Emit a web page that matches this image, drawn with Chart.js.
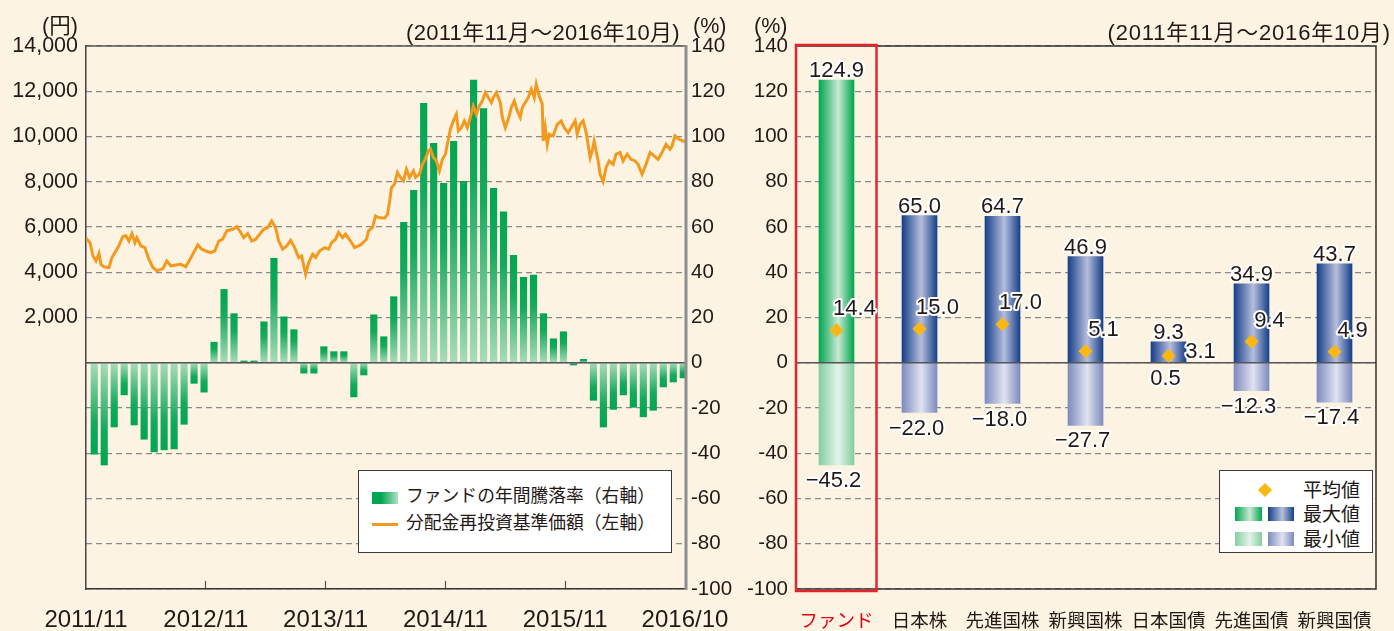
<!DOCTYPE html>
<html>
<head>
<meta charset="utf-8">
<script src="https://cdn.jsdelivr.net/npm/chart.js@4.4.1/dist/chart.umd.min.js"></script>
<style>
  body { margin: 0; width: 1394px; height: 631px; overflow: hidden; position: relative;
         background: #fdf3e2; color: #231815;
         font-family: "Liberation Sans", "Noto Sans CJK JP", sans-serif; }
  canvas { position: absolute; top: 0; }
  #left { left: 0; }
  #right { left: 740px; }
  .t { position: absolute; white-space: nowrap; line-height: 1; }
  .box { position: absolute; background: #fff; border: 1px solid #3a3a3a; box-sizing: border-box; }
  .box div { position: absolute; white-space: nowrap; line-height: 1; }
</style>
</head>
<body>
<canvas id="left" width="740" height="631"></canvas>
<canvas id="right" width="654" height="631"></canvas>

<div class="t" style="left:42px;top:16px;font-size:21.5px">(円)</div>
<div class="t" style="left:406px;top:22px;font-size:22px;letter-spacing:0.3px">(2011年11月～2016年10月)</div>
<div class="t" style="left:693px;top:16px;font-size:21.5px">(%)</div>
<div class="t" style="left:754px;top:16px;font-size:21.5px">(%)</div>
<div class="t" style="right:3px;top:22px;font-size:22px;letter-spacing:0.8px">(2011年11月～2016年10月)</div>

<!-- 左の凡例 -->
<div class="box" style="left:358px;top:470px;width:314px;height:83px">
  <div style="left:13px;top:21px;width:26px;height:12px;background:linear-gradient(to right,#00a651,#00a651 35%,#b3e0c3)"></div>
  <div style="left:47px;top:17px;font-size:17.8px">ファンドの年間騰落率（右軸）</div>
  <div style="left:13px;top:52px;width:26px;height:3px;background:#f39a1e"></div>
  <div style="left:47px;top:44px;font-size:17.8px">分配金再投資基準価額（左軸）</div>
</div>

<!-- 右の凡例 -->
<div class="box" style="left:1219px;top:470px;width:154px;height:83px">
  <div style="left:40px;top:14px;width:10px;height:10px;background:#fcb712;transform:rotate(45deg)"></div>
  <div style="left:83px;top:10px;font-size:19px">平均値</div>
  <div style="left:15px;top:36px;width:27px;height:14px;background:linear-gradient(to right,#00a651,#c9e8d2 55%,#00a651)"></div>
  <div style="left:48px;top:36px;width:26px;height:14px;background:linear-gradient(to right,#17408a,#b6bedc 55%,#17408a)"></div>
  <div style="left:83px;top:34px;font-size:19px">最大値</div>
  <div style="left:15px;top:61px;width:27px;height:14px;background:linear-gradient(to right,#84cea0,#e4f3e9 55%,#84cea0)"></div>
  <div style="left:48px;top:61px;width:26px;height:14px;background:linear-gradient(to right,#7d8bbf,#e0e3f0 55%,#7d8bbf)"></div>
  <div style="left:83px;top:59px;font-size:19px">最小値</div>
</div>

<script>
const FONT = '"Liberation Sans", "Noto Sans CJK JP", sans-serif';
const INK = '#231815';

// ファンドの年間騰落率（%）、2011/11 から 2016/10 まで月次
const fundReturn = [
  -40.4, -45.2, -28.4, -14.2, -27.5, -33.8, -39.4, -38.5, -38.1, -27.2, -9.1, -13.0,
  9.1, 32.4, 21.7, 0.8, 0.8, 18.1, 46.2, 20.3, 14.6, -4.6, -4.6, 7.1,
  4.9, 4.9, -15.1, -5.4, 21.2, 11.5, 29.2, 62.1, 76.2, 114.7, 97.0, 79.3,
  97.9, 80.2, 124.9, 112.3, 77.1, 66.7, 47.5, 37.8, 38.7, 21.7, 10.6, 13.7,
  -1.0, 1.5, -16.6, -28.4, -20.6, -14.2, -19.7, -23.9, -21.0, -10.7, -8.5, -6.7
];

// 分配金再投資基準価額（円）、navT は 2011/11 からの月数
const navT = [
  0.0, 0.1, 0.4, 0.7, 1.0, 1.3, 1.5, 1.8, 2.3, 2.6, 3.2, 3.7, 4.0, 4.3, 4.6, 4.9,
  5.1, 5.5, 5.9, 6.3, 6.7, 7.1, 7.7, 8.1, 8.5, 9.0, 9.5, 10.0, 10.6, 11.2, 11.6, 12.0,
  12.5, 12.9, 13.3, 13.7, 14.1, 14.7, 15.1, 15.5, 15.8, 16.2, 16.6, 17.0, 17.4, 17.8, 18.2, 18.6,
  19.0, 19.3, 19.7, 20.1, 20.5, 20.9, 21.3, 21.6, 22.0, 22.3, 22.7, 23.0, 23.4, 23.9, 24.3, 24.6,
  25.0, 25.3, 25.7, 26.0, 26.5, 26.9, 27.5, 28.1, 28.3, 28.7, 29.0, 29.3, 29.9, 30.2, 30.4, 30.6,
  30.9, 31.2, 31.5, 31.8, 32.1, 32.4, 32.8, 33.0, 33.4, 33.7, 33.9, 34.3, 34.5, 34.8, 35.1, 35.4,
  35.7, 36.0, 36.3, 36.5, 36.8, 37.1, 37.3, 37.6, 37.9, 38.2, 38.5, 38.8, 39.1, 39.4, 39.7, 40.0,
  40.3, 40.6, 40.8, 41.1, 41.5, 41.7, 42.0, 42.3, 42.6, 42.9, 43.2, 43.5, 43.7, 44.1, 44.3, 44.6,
  44.9, 45.1, 45.4, 45.7, 45.8, 46.0, 46.2, 46.4, 46.8, 47.2, 47.6, 47.9, 48.3, 48.7, 49.0, 49.2,
  49.5, 49.8, 50.1, 50.5, 50.7, 50.9, 51.3, 51.5, 51.8, 52.1, 52.4, 52.8, 53.1, 53.5, 53.8, 54.2,
  54.6, 55.0, 55.3, 55.7, 56.1, 56.5, 56.9, 57.3, 57.7, 58.1, 58.5, 58.7, 59.0, 59.4, 59.8, 60.0
];
const navYen = [
  5500, 5500, 5310, 4720, 4500, 4830, 4350, 4240, 4210, 4650, 5090, 5580, 5610, 5380, 5710, 5310,
  5530, 5160, 5090, 4580, 4210, 4060, 4160, 4500, 4280, 4320, 4350, 4240, 4720, 5210, 5020, 4940,
  4870, 4940, 5380, 5460, 5830, 5900, 6020, 5760, 5530, 5710, 5380, 5460, 5680, 5900, 5980, 6270,
  5950, 5380, 5020, 5160, 5410, 5090, 4650, 4720, 3910, 4430, 4800, 4650, 4940, 5090, 5020, 5310,
  5460, 5760, 5530, 5680, 5380, 5090, 5210, 5460, 5830, 5980, 6490, 6420, 6390, 6560, 7080, 7740,
  7890, 8410, 8190, 8040, 8550, 8190, 8480, 8190, 8330, 8770, 8920, 9360, 9440, 9070, 8920, 8480,
  8990, 9220, 9880, 10320, 10690, 10980, 10250, 10390, 10690, 10390, 10840, 11350, 10980, 11350, 11570, 11940,
  11720, 11500, 11720, 11940, 11500, 10840, 10390, 10760, 11280, 11570, 11130, 10840, 11280, 11570, 11720, 12090,
  11720, 12310, 11790, 11430, 9800, 10390, 9660, 10100, 10030, 10540, 10690, 10390, 10170, 10470, 10690, 10100,
  10540, 10690, 10170, 9070, 9360, 9800, 8920, 8330, 8010, 8630, 8920, 8770, 9220, 9290, 8920, 9220,
  8990, 8920, 8770, 8330, 8770, 9290, 9140, 8990, 9290, 9660, 9440, 9580, 10030, 9880, 9800, 9780
];
const dateTicks = ['2011/11', '2012/11', '2013/11', '2014/11', '2015/11', '2016/10'];

// 右：資産別の年間騰落率（%）
const assetNames = ['ファンド', '日本株', '先進国株', '新興国株', '日本国債', '先進国債', '新興国債'];
const maxVals = [124.9, 65.0, 64.7, 46.9, 9.3, 34.9, 43.7];
const minVals = [-45.2, -22.0, -18.0, -27.7, 0.5, -12.3, -17.4];
const avgVals = [14.4, 15.0, 17.0, 5.1, 3.1, 9.4, 4.9];

// 月のカテゴリ（棒グラフ用）
const months = fundReturn.map((_, i) => {
    const k = 10 + i;
    return (2011 + Math.floor(k / 12)) + '/' + (k % 12 + 1);
});

function greenBar(c) {
    const chart = c.chart, s = chart.scales.y2;
    if (!s || !chart.chartArea || typeof c.raw !== 'number') return '#00a651';
    const y0 = s.getPixelForValue(0), y1 = s.getPixelForValue(c.raw);
    const g = chart.ctx.createLinearGradient(0, y1, 0, y0);
    g.addColorStop(0, '#00a651');
    g.addColorStop(0.35, '#14aa5c');
    g.addColorStop(1, '#a9dcbb');
    return g;
}

const leftFrame = {
    id: 'leftFrame',
    afterDatasetsDraw(chart) {
        const {ctx, chartArea: a} = chart;
        const y0 = chart.scales.y2.getPixelForValue(0);
        ctx.save();
        ctx.strokeStyle = '#555';
        ctx.lineWidth = 1.5;
        ctx.beginPath();
        ctx.moveTo(a.left, y0); ctx.lineTo(a.right, y0);
        ctx.moveTo(a.left, a.top); ctx.lineTo(a.right, a.top);
        ctx.stroke();
        ctx.strokeStyle = '#8e8e8e';
        ctx.lineWidth = 3;
        ctx.beginPath();
        ctx.moveTo(a.right + 1, a.top - 1); ctx.lineTo(a.right + 1, a.bottom + 1);
        ctx.stroke();
        ctx.restore();
    }
};

new Chart(document.getElementById('left'), {
    type: 'bar',
    data: {
        labels: months,
        datasets: [
            {
                type: 'line',
                label: '分配金再投資基準価額（左軸）',
                data: navT.map((t, i) => ({x: t, y: navYen[i]})),
                xAxisID: 'xl',
                yAxisID: 'y',
                borderColor: '#f39a1e',
                borderWidth: 3,
                pointRadius: 0,
                tension: 0,
                order: 0
            },
            {
                label: 'ファンドの年間騰落率（右軸）',
                data: fundReturn,
                xAxisID: 'x',
                yAxisID: 'y2',
                backgroundColor: greenBar,
                barThickness: 6.5,
                order: 1
            }
        ]
    },
    options: {
        responsive: false,
        animation: false,
        devicePixelRatio: 1,
        layout: {padding: {top: 46, left: 0, right: 0, bottom: 0}},
        plugins: {legend: {display: false}, tooltip: {enabled: false}},
        scales: {
            x: {type: 'category', display: false, offset: true},
            xl: {
                type: 'linear', position: 'bottom', min: 0, max: 60, offset: false,
                afterBuildTicks: ax => { ax.ticks = dateTicks.map((_, i) => ({value: i * 12})); },
                ticks: {
                    callback: v => dateTicks[Math.round(v / 12)],
                    font: {family: FONT, size: 24, lineHeight: 3}, color: INK,
                    padding: 3, maxRotation: 0, autoSkip: false
                },
                grid: {
                    offset: false, drawOnChartArea: false, tickLength: -8, tickWidth: 1.2,
                    tickColor: c => (c.tick && (c.tick.value === 0 || c.tick.value === 60)) ? 'rgba(0,0,0,0)' : '#555'
                },
                border: {color: '#333', width: 1.5},
                afterFit: ax => { ax.height = 42; }
            },
            y: {
                position: 'left', min: -10000, max: 14000,
                ticks: {
                    stepSize: 2000, autoSkip: false,
                    callback: v => v >= 2000 ? v.toLocaleString('en-US') : '',
                    font: {family: FONT, size: 21.5}, color: INK, padding: 8
                },
                grid: {display: false, drawTicks: false},
                border: {display: true, color: '#444', width: 1.5},
                afterFit: ax => { ax.width = 86; }
            },
            y2: {
                position: 'right', min: -100, max: 140,
                ticks: {stepSize: 20, autoSkip: false, font: {family: FONT, size: 20.5}, color: INK, padding: 6},
                grid: {color: '#8a8a8a', lineWidth: 1.2, drawTicks: false},
                border: {display: false, dash: [6, 4]},
                afterFit: ax => { ax.width = 55; }
            }
        }
    },
    plugins: [leftFrame]
});

// 右側：横方向グラデーションの棒
function sideGradient(dark, light) {
    return c => {
        const chart = c.chart, xs = chart.scales.x;
        if (!xs || !chart.chartArea) return dark;
        const cx = xs.getPixelForValue(c.dataIndex);
        const g = chart.ctx.createLinearGradient(cx - 17.5, 0, cx + 17.5, 0);
        g.addColorStop(0, dark);
        g.addColorStop(0.55, light);
        g.addColorStop(1, dark);
        return g;
    };
}
const maxColor = c => c.dataIndex === 0 ? sideGradient('#00a651', '#c9e8d2')(c) : sideGradient('#17408a', '#b6bedc')(c);
const minColor = c => c.dataIndex === 0 ? sideGradient('#84cea0', '#e4f3e9')(c) : sideGradient('#7d8bbf', '#e0e3f0')(c);

function fmt(v) {
    return v < 0 ? '−' + Math.abs(v).toFixed(1) : v.toFixed(1);
}

const rightDecor = {
    id: 'rightDecor',
    afterDatasetDraw(chart, args) {
        if (args.index !== 0) return;
        const {ctx, chartArea: a} = chart;
        const y0 = chart.scales.y.getPixelForValue(0);
        ctx.save();
        ctx.strokeStyle = '#555';
        ctx.lineWidth = 1.5;
        ctx.beginPath();
        ctx.moveTo(a.left, y0); ctx.lineTo(a.right, y0);
        ctx.stroke();
        ctx.restore();
    },
    afterDatasetsDraw(chart) {
        const {ctx, chartArea: a} = chart;
        const xs = chart.scales.x, ys = chart.scales.y;
        ctx.save();
        // 枠
        ctx.strokeStyle = '#333';
        ctx.lineWidth = 1.5;
        ctx.beginPath();
        ctx.moveTo(a.left, a.top); ctx.lineTo(a.right, a.top); ctx.lineTo(a.right, a.bottom); ctx.lineTo(a.left, a.bottom);
        ctx.stroke();
        // ファンドの赤枠
        ctx.strokeStyle = '#e8242b';
        ctx.lineWidth = 2.5;
        ctx.strokeRect(a.left + 1, a.top - 1, xs.getPixelForValue(0) + 40 - a.left - 1, a.bottom - a.top + 3);
        // 数値ラベル
        ctx.font = '22px ' + FONT;
        ctx.fillStyle = INK;
        ctx.strokeStyle = '#fff';
        ctx.lineWidth = 4;
        ctx.lineJoin = 'round';
        ctx.textAlign = 'center';
        const put = (s, x, y) => { ctx.strokeText(s, x, y); ctx.fillText(s, x, y); };
        assetNames.forEach((n, i) => {
            const x = xs.getPixelForValue(i);
            ctx.textBaseline = 'alphabetic';
            put(fmt(maxVals[i]), x, ys.getPixelForValue(maxVals[i]) - 3);
            ctx.textBaseline = 'top';
            put(fmt(minVals[i]), x - 3, ys.getPixelForValue(Math.min(minVals[i], 0)) + 5);
            ctx.textBaseline = 'middle';
            const ya = ys.getPixelForValue(avgVals[i]);
            if (maxVals[i] - avgVals[i] < 12) put(fmt(avgVals[i]), x + 32, ya - 4);
            else put(fmt(avgVals[i]), x + 18, ya - 21);
        });
        ctx.restore();
    }
};

new Chart(document.getElementById('right'), {
    type: 'bar',
    data: {
        labels: assetNames,
        datasets: [
            {
                label: '最大値',
                data: maxVals.map(v => [0, v]),
                backgroundColor: maxColor,
                barThickness: 35,
                grouped: false,
                order: 1
            },
            {
                label: '最小値',
                data: minVals.map(v => [v, 0]),
                backgroundColor: minColor,
                barThickness: 35,
                grouped: false,
                order: 2
            },
            {
                type: 'line',
                label: '平均値',
                data: avgVals,
                showLine: false,
                pointStyle: 'rectRot',
                pointRadius: 7,
                pointBackgroundColor: '#fcb712',
                pointBorderWidth: 0,
                order: 0
            }
        ]
    },
    options: {
        responsive: false,
        animation: false,
        devicePixelRatio: 1,
        layout: {padding: {top: 46, left: 0, right: 4, bottom: 0}},
        plugins: {legend: {display: false}, tooltip: {enabled: false}},
        scales: {
            x: {
                offset: true,
                grid: {display: false, drawTicks: false},
                border: {display: false},
                ticks: {
                    font: {family: FONT, size: 18.5},
                    color: c => c.index === 0 ? '#e60012' : INK,
                    padding: 22, maxRotation: 0, autoSkip: false
                },
                afterFit: ax => { ax.height = 42; }
            },
            y: {
                min: -100, max: 140,
                ticks: {stepSize: 20, autoSkip: false, font: {family: FONT, size: 20.5}, color: INK, padding: 7},
                grid: {color: '#8a8a8a', lineWidth: 1.2, drawTicks: false},
                border: {display: false, dash: [6, 4]},
                afterFit: ax => { ax.width = 55; }
            }
        }
    },
    plugins: [rightDecor]
});
</script>
</body>
</html>
